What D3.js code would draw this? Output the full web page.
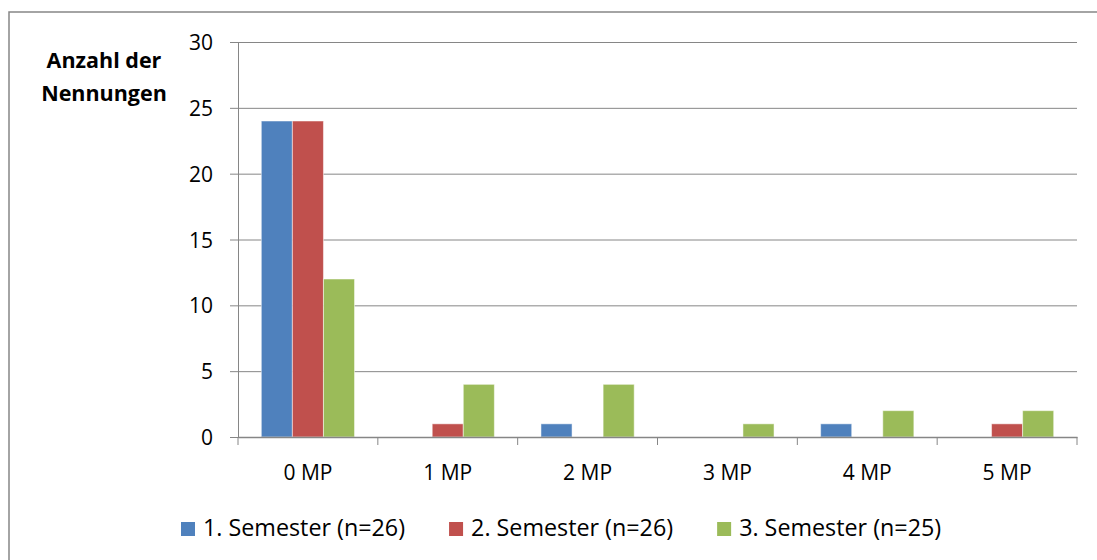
<!DOCTYPE html>
<html>
<head>
<meta charset="utf-8">
<script src="https://cdn.jsdelivr.net/npm/d3@7"></script>
<style>
  body { margin: 0; background: #fff; }
  svg text { font-family: "Open Sans", Lato, sans-serif; fill: #000; }
</style>
</head>
<body>
<svg id="chart"></svg>
<script>
// categories and series
var categories = ["0 MP", "1 MP", "2 MP", "3 MP", "4 MP", "5 MP"];
var seriesNames = ["1. Semester (n=26)", "2. Semester (n=26)", "3. Semester (n=25)"];
var sem1 = [24, 0, 1, 0, 1, 0];
var sem2 = [24, 1, 0, 0, 0, 1];
var sem3 = [12, 4, 4, 1, 2, 2];
var yTicks = [0, 5, 10, 15, 20, 25, 30];
var colors = ["#4F81BD", "#C0504D", "#9BBB59"];

var values = [sem1, sem2, sem3];

var width = 1097,
    height = 560,
    plotLeft = 238, plotRight = 1077, plotTop = 42, plotBottom = 437,
    gray = "#868686";

var svg = d3.select("#chart")
  .attr("width", width)
  .attr("height", height);

// outer chart border (runs off the right and bottom edge)
svg.append("rect")
  .attr("x", 9).attr("y", 12)
  .attr("width", 1110).attr("height", 570)
  .attr("fill", "none")
  .attr("stroke", gray)
  .attr("stroke-width", 1.5);

var x = d3.scaleBand().domain(categories).range([plotLeft, plotRight]);
// excel style gap width 150%
var xs = d3.scaleBand().domain(d3.range(3)).range([0, x.bandwidth()]).paddingOuter(0.75);
var y = d3.scaleLinear().domain([0, 30]).range([plotBottom, plotTop]);

// gridlines + y ticks
var yAxis = svg.append("g")
  .attr("transform", "translate(" + plotLeft + ",0)")
  .call(d3.axisLeft(y).tickValues(yTicks).tickSize(8).tickPadding(17).tickFormat(d3.format("d")));
yAxis.select(".domain").attr("stroke", gray);
yAxis.selectAll(".tick line").attr("stroke", gray);
yAxis.selectAll(".tick text").style("font-size", "21px").attr("dy", "0.36em");
yAxis.selectAll(".tick").append("line")
  .attr("x1", 0).attr("x2", plotRight - plotLeft)
  .attr("stroke", gray)
  .attr("stroke-width", 1);

// the bars
var groups = svg.append("g").selectAll("g")
  .data(categories)
  .enter().append("g")
    .attr("transform", function(d){ return "translate(" + x(d) + ",0)"; });

groups.selectAll("rect")
  .data(function(d, i){
    return values.map(function(s, j){ return {s: j, v: s[i]}; });
  })
  .enter().append("rect")
    .filter(function(d){ return d.v > 0; })
    .attr("x", function(d){ return xs(d.s); })
    .attr("width", xs.bandwidth())
    .attr("y", function(d){ return y(d.v); })
    .attr("height", function(d){ return y(0) - y(d.v); })
    .attr("fill", function(d){ return colors[d.s]; })
    .attr("stroke", "rgba(255,255,255,0.5)")
    .attr("stroke-width", 1);

// category axis
var xAxis = svg.append("g")
  .attr("transform", "translate(0," + plotBottom + ")")
  .call(d3.axisBottom(x).tickSize(0).tickPadding(28));
xAxis.select(".domain").attr("stroke", gray).attr("stroke-width", 1.5);
xAxis.selectAll(".tick text").style("font-size", "21px");
// tick marks sit on the band borders
xAxis.selectAll(".sep")
  .data(d3.range(categories.length + 1))
  .enter().append("line")
    .attr("x1", function(i){ return plotLeft + i * x.step(); })
    .attr("x2", function(i){ return plotLeft + i * x.step(); })
    .attr("y1", 0).attr("y2", 8)
    .attr("stroke", gray);

// y axis title
var title = svg.append("text")
  .attr("x", 104).attr("y", 68)
  .attr("text-anchor", "middle")
  .style("font-size", "21.5px")
  .style("font-weight", "bold");
title.append("tspan").attr("x", 104).text("Anzahl der");
title.append("tspan").attr("x", 104).attr("dy", 33).text("Nennungen");

// legend
var legend = svg.append("g");
var lx = 181;
seriesNames.forEach(function(name, i){
  var item = legend.append("g").attr("transform", "translate(" + lx + ",0)");
  item.append("rect")
    .attr("x", 0).attr("y", 522)
    .attr("width", 14).attr("height", 14)
    .attr("fill", colors[i]);
  var t = item.append("text")
    .attr("x", 22).attr("y", 536)
    .style("font-size", "23.3px")
    .text(name);
  lx += 22 + t.node().getComputedTextLength() + 44;
});
</script>
</body>
</html>
